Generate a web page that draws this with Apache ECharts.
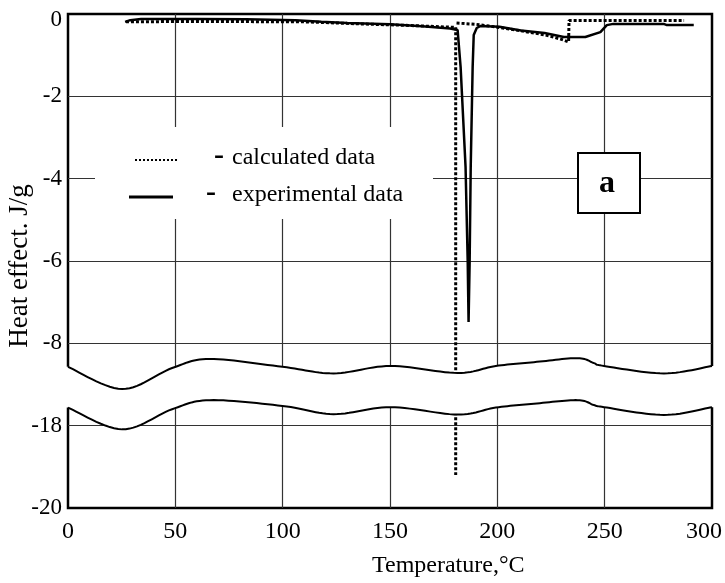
<!DOCTYPE html>
<html>
<head>
<meta charset="utf-8">
<script src="https://cdn.jsdelivr.net/npm/echarts@6/dist/echarts.min.js"></script>
<style>
  html, body { margin: 0; background: #fff; }
  #chart { width: 725px; height: 583px; }
</style>
</head>
<body>
<div id="chart"></div>
<script>
// -----------------------------------------------------------------------------
// Heat effect vs temperature, y axis broken between -9 and -17 J/g
// -----------------------------------------------------------------------------
const xTicks = [0, 50, 100, 150, 200, 250, 300];

// experimental curve (solid)
const expT = [26.6, 29, 34, 60, 83, 106, 118, 130, 150, 165, 178, 181.5, 182.9, 185.2, 186.2, 186.6, 187.1, 187.6, 188.5, 189.0, 190.4, 192.2, 201, 211, 222, 231, 241, 248, 251, 254, 277.5, 279, 291.5];
const expV = [-0.19, -0.15, -0.12, -0.12, -0.13, -0.15, -0.19, -0.22, -0.25, -0.30, -0.35, -0.39, -1.29, -3.72, -6.02, -7.48, -6.02, -3.72, -1.29, -0.51, -0.34, -0.29, -0.31, -0.40, -0.46, -0.56, -0.56, -0.44, -0.27, -0.24, -0.24, -0.27, -0.27];

// calculated curve (dotted); the null keeps the way back up from redrawing the drop
const calcT = [27, 60, 110, 136, 160, 178, 180.6, 180.6, 180.8, 181, 190, 200, 211, 222.5, 229.5, 233.2, 233.4, 287];
const calcV = [-0.19, -0.18, -0.19, -0.24, -0.28, -0.32, -0.32, -19.2, null, -0.22, -0.25, -0.32, -0.41, -0.51, -0.61, -0.68, -0.16, -0.16];

// wavy break band, in axis units (upper and lower edge)
const breakT = [0, 25.2, 48.5, 66, 99.9, 123.7, 150.2, 181.5, 199.3, 218.4, 237.5, 245, 249.7, 277.6, 300];
const breakUpper = [-8.57, -9.11, -8.60, -8.38, -8.57, -8.73, -8.55, -8.72, -8.55, -8.45, -8.36, -8.48, -8.55, -8.73, -8.55];
const breakLower = [-9.56, -10.09, -9.60, -9.38, -9.52, -9.72, -9.55, -9.73, -9.56, -9.46, -9.38, -9.50, -9.55, -9.74, -9.55];

const BREAK_FROM = -9;  // values below are shifted up by BREAK_SIZE
const BREAK_SIZE = 8;
const toAxis = (v) => (v == null ? null : v < BREAK_FROM ? v + BREAK_SIZE : v);
const fromAxis = (v) => (v < BREAK_FROM ? v - BREAK_SIZE : v);

const FONT = '"Liberation Serif", "Times New Roman", serif';

// Catmull-Rom through pixel points, only for drawing the band edges
function spline(pts, steps) {
  const out = [];
  for (let i = 0; i < pts.length - 1; i++) {
    const p0 = pts[Math.max(i - 1, 0)], p1 = pts[i], p2 = pts[i + 1], p3 = pts[Math.min(i + 2, pts.length - 1)];
    for (let s = 0; s < steps; s++) {
      const t = s / steps, t2 = t * t, t3 = t2 * t;
      out.push([0, 1].map((k) => 0.5 * (2 * p1[k] + (-p0[k] + p2[k]) * t +
        (2 * p0[k] - 5 * p1[k] + 4 * p2[k] - p3[k]) * t2 +
        (-p0[k] + 3 * p1[k] - 3 * p2[k] + p3[k]) * t3)));
    }
  }
  out.push(pts[pts.length - 1]);
  return out;
}

function renderBreak(params, api) {
  const up = spline(breakT.map((t, i) => api.coord([t, breakUpper[i]])), 14);
  const lo = spline(breakT.map((t, i) => api.coord([t, breakLower[i]])), 14);
  const first = up[0], last = up[up.length - 1];
  const fill = [[first[0] - 3, first[1]]].concat(up, [[last[0] + 3, last[1]]],
    [[lo[lo.length - 1][0] + 3, lo[lo.length - 1][1]]], lo.slice().reverse(), [[lo[0][0] - 3, lo[0][1]]]);
  return {
    type: 'group',
    children: [
      { type: 'polygon', shape: { points: fill }, style: { fill: '#fff' } },
      { type: 'polyline', shape: { points: up }, style: { stroke: '#000', lineWidth: 2, fill: null } },
      { type: 'polyline', shape: { points: lo }, style: { stroke: '#000', lineWidth: 2, fill: null } }
    ]
  };
}

const chart = echarts.init(document.getElementById('chart'));

chart.setOption({
  animation: false,
  backgroundColor: '#fff',
  grid: {
    left: 68, right: 13, top: 14, bottom: 75,
    show: true, borderColor: '#000', borderWidth: 2.5, backgroundColor: '#fff',
    containLabel: false, outerBoundsMode: 'none'
  },
  xAxis: {
    type: 'value', min: 0, max: 300, interval: 50,
    axisLine: { show: false }, axisTick: { show: false },
    splitLine: { show: true, showMinLine: false, showMaxLine: false, lineStyle: { color: '#333', width: 1.2 } },
    axisLabel: {
      margin: 12, color: '#000', fontSize: 24, fontFamily: FONT,
      formatter: (v) => (v === 300 ? '{end|300}' : String(v)),
      rich: { end: { padding: [0, 16, 0, 0], fontSize: 24, fontFamily: FONT, color: '#000' } }
    }
  },
  yAxis: {
    type: 'value', min: -12, max: 0, interval: 2,
    axisLine: { show: false }, axisTick: { show: false },
    splitLine: { show: true, showMinLine: false, showMaxLine: false, lineStyle: { color: '#333', width: 1.2 } },
    axisLabel: {
      margin: 6, color: '#000', fontSize: 23, fontFamily: FONT,
      formatter: (v) => (v === 0 ? '{top|0}' : String(fromAxis(v))),
      rich: { top: { padding: [12, 0, 0, 0], fontSize: 23, fontFamily: FONT, color: '#000' } }
    }
  },
  series: [
    {
      name: 'calculated data', type: 'line', z: 3, showSymbol: false, silent: true, connectNulls: false,
      data: calcT.map((t, i) => [t, toAxis(calcV[i])]),
      lineStyle: { color: '#000', width: 3, type: [3, 2], cap: 'butt' }
    },
    {
      name: 'experimental data', type: 'line', z: 4, showSymbol: false, silent: true,
      data: expT.map((t, i) => [t, toAxis(expV[i])]),
      lineStyle: { color: '#000', width: 2.5 }
    },
    {
      type: 'custom', z: 6, silent: true, coordinateSystem: 'cartesian2d',
      data: [[0, 0]], renderItem: renderBreak
    }
  ],
  graphic: {
    elements: [
      // legend block
      { type: 'rect', z: 10, shape: { x: 95, y: 127, width: 338, height: 92 }, style: { fill: '#fff' } },
      { type: 'line', z: 11, shape: { x1: 135, y1: 160, x2: 177, y2: 160 }, style: { stroke: '#000', lineWidth: 2, lineDash: [2, 2] } },
      { type: 'text', z: 11, style: { x: 214, y: 156, text: '-', font: 'bold 30px ' + FONT, fill: '#000', textVerticalAlign: 'middle' } },
      { type: 'text', z: 11, style: { x: 232, y: 158, text: 'calculated data', font: '24px ' + FONT, fill: '#000', textVerticalAlign: 'middle' } },
      { type: 'line', z: 11, shape: { x1: 129, y1: 197, x2: 173, y2: 197 }, style: { stroke: '#000', lineWidth: 3 } },
      { type: 'text', z: 11, style: { x: 206, y: 193, text: '-', font: 'bold 30px ' + FONT, fill: '#000', textVerticalAlign: 'middle' } },
      { type: 'text', z: 11, style: { x: 232, y: 195, text: 'experimental data', font: '24px ' + FONT, fill: '#000', textVerticalAlign: 'middle' } },
      // panel tag
      { type: 'rect', z: 10, shape: { x: 578, y: 153, width: 62, height: 60 }, style: { fill: '#fff', stroke: '#000', lineWidth: 2 } },
      { type: 'text', z: 11, style: { x: 607, y: 184, text: 'a', font: 'bold 32px ' + FONT, fill: '#000', textAlign: 'center', textVerticalAlign: 'middle' } },
      // axis names
      { type: 'text', z: 11, x: 20, y: 266, rotation: Math.PI / 2, style: { x: 0, y: 0, text: 'Heat effect. J/g', font: '27px ' + FONT, fill: '#000', textAlign: 'center', textVerticalAlign: 'middle' } },
      { type: 'text', z: 11, style: { x: 372, y: 566, text: 'Temperature,°C', font: '24px ' + FONT, fill: '#000', textVerticalAlign: 'middle' } }
    ]
  }
});
</script>
</body>
</html>
